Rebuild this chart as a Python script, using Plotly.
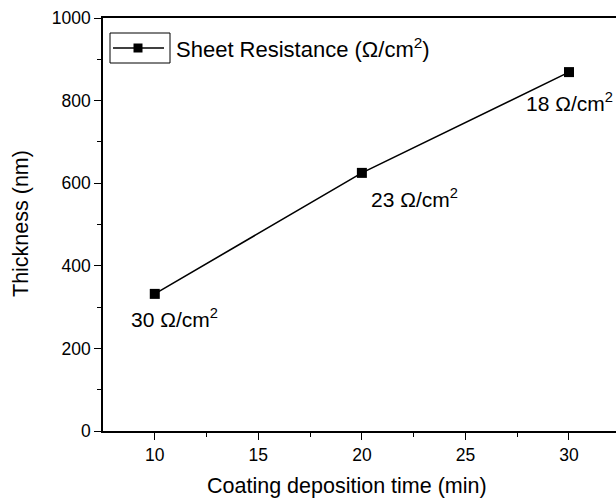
import plotly.graph_objects as go

time_min = [10, 20, 30]
thickness_nm = [332, 625, 869]
resistance_labels = ["30 Ω/cm<sup>2</sup>", "23 Ω/cm<sup>2</sup>", "18 Ω/cm<sup>2</sup>"]
label_offsets = [(20, 24), (53, 25), (1, 30)]
series_name = "Sheet Resistance (Ω/cm<sup>2</sup>)"
x_title = "Coating deposition time (min)"
y_title = "Thickness (nm)"

FONT = "Liberation Sans, Arial, sans-serif"
W, H = 616, 499
L, R, T, B = 103, 0, 18, 68
PW, PH = W - L - R, H - T - B


def px(x):
    return (x - L) / PW


def py(y):
    return 1 - (y - T) / PH


fig = go.Figure()
fig.add_trace(go.Scatter(
    x=time_min, y=thickness_nm, mode="lines+markers",
    name=series_name, showlegend=False,
    line=dict(color="black", width=1.6),
    marker=dict(symbol="square", size=10, color="black"),
))

for x, y, t, (dx, dy) in zip(time_min, thickness_nm, resistance_labels, label_offsets):
    fig.add_annotation(x=x, y=y, text=t, showarrow=False, xshift=dx, yshift=-dy,
                       font=dict(family=FONT, size=21, color="black"))

fig.update_layout(
    width=W, height=H,
    margin=dict(l=L, r=R, t=T, b=B),
    paper_bgcolor="white", plot_bgcolor="white",
    font=dict(family=FONT, color="black"),
    showlegend=False,
    xaxis=dict(range=[7.5, 32.27], tickvals=[10, 15, 20, 25, 30],
               showline=True, linecolor="black", linewidth=1.5, mirror=True,
               ticks="outside", ticklen=7, tickwidth=1.3, tickcolor="black",
               minor=dict(tickvals=[12.5, 17.5, 22.5, 27.5, 32.5], ticks="outside",
                          ticklen=4, tickwidth=1.3, tickcolor="black"),
               showgrid=False, zeroline=False,
               tickfont=dict(size=17.5)),
    yaxis=dict(range=[0, 1000], tickvals=[0, 200, 400, 600, 800, 1000],
               showline=True, linecolor="black", linewidth=1.5, mirror=False,
               ticks="outside", ticklen=7, tickwidth=1.3, tickcolor="black",
               minor=dict(tickvals=[100, 300, 500, 700, 900], ticks="outside",
                          ticklen=4, tickwidth=1.3, tickcolor="black"),
               showgrid=False, zeroline=False,
               tickfont=dict(size=17.5)),
)

# axis titles
fig.add_annotation(xref="paper", yref="paper", x=px(347), y=py(486),
                   xanchor="center", yanchor="middle", showarrow=False,
                   text=x_title, font=dict(family=FONT, size=21.5, color="black"))
fig.add_annotation(xref="paper", yref="paper", x=px(21), y=py(224),
                   xanchor="center", yanchor="middle", showarrow=False, textangle=-90,
                   text=y_title, font=dict(family=FONT, size=21.5, color="black"))

# Origin-style legend: box around the symbol, text beside it
fig.add_shape(type="rect", xref="paper", yref="paper",
              x0=px(110), x1=px(170), y0=py(63), y1=py(33),
              line=dict(color="black", width=1))
fig.add_shape(type="line", xref="paper", yref="paper",
              x0=px(113), x1=px(164), y0=py(48), y1=py(48),
              line=dict(color="black", width=1.6))
fig.add_shape(type="rect", xref="paper", yref="paper",
              x0=px(133.5), x1=px(142.5), y0=py(52.5), y1=py(43.5),
              line=dict(color="black", width=0), fillcolor="black")
fig.add_annotation(xref="paper", yref="paper", x=px(174), y=py(48),
                   xanchor="left", yanchor="middle", showarrow=False,
                   text=series_name, font=dict(family=FONT, size=22, color="black"))

fig.write_html("out.html")
